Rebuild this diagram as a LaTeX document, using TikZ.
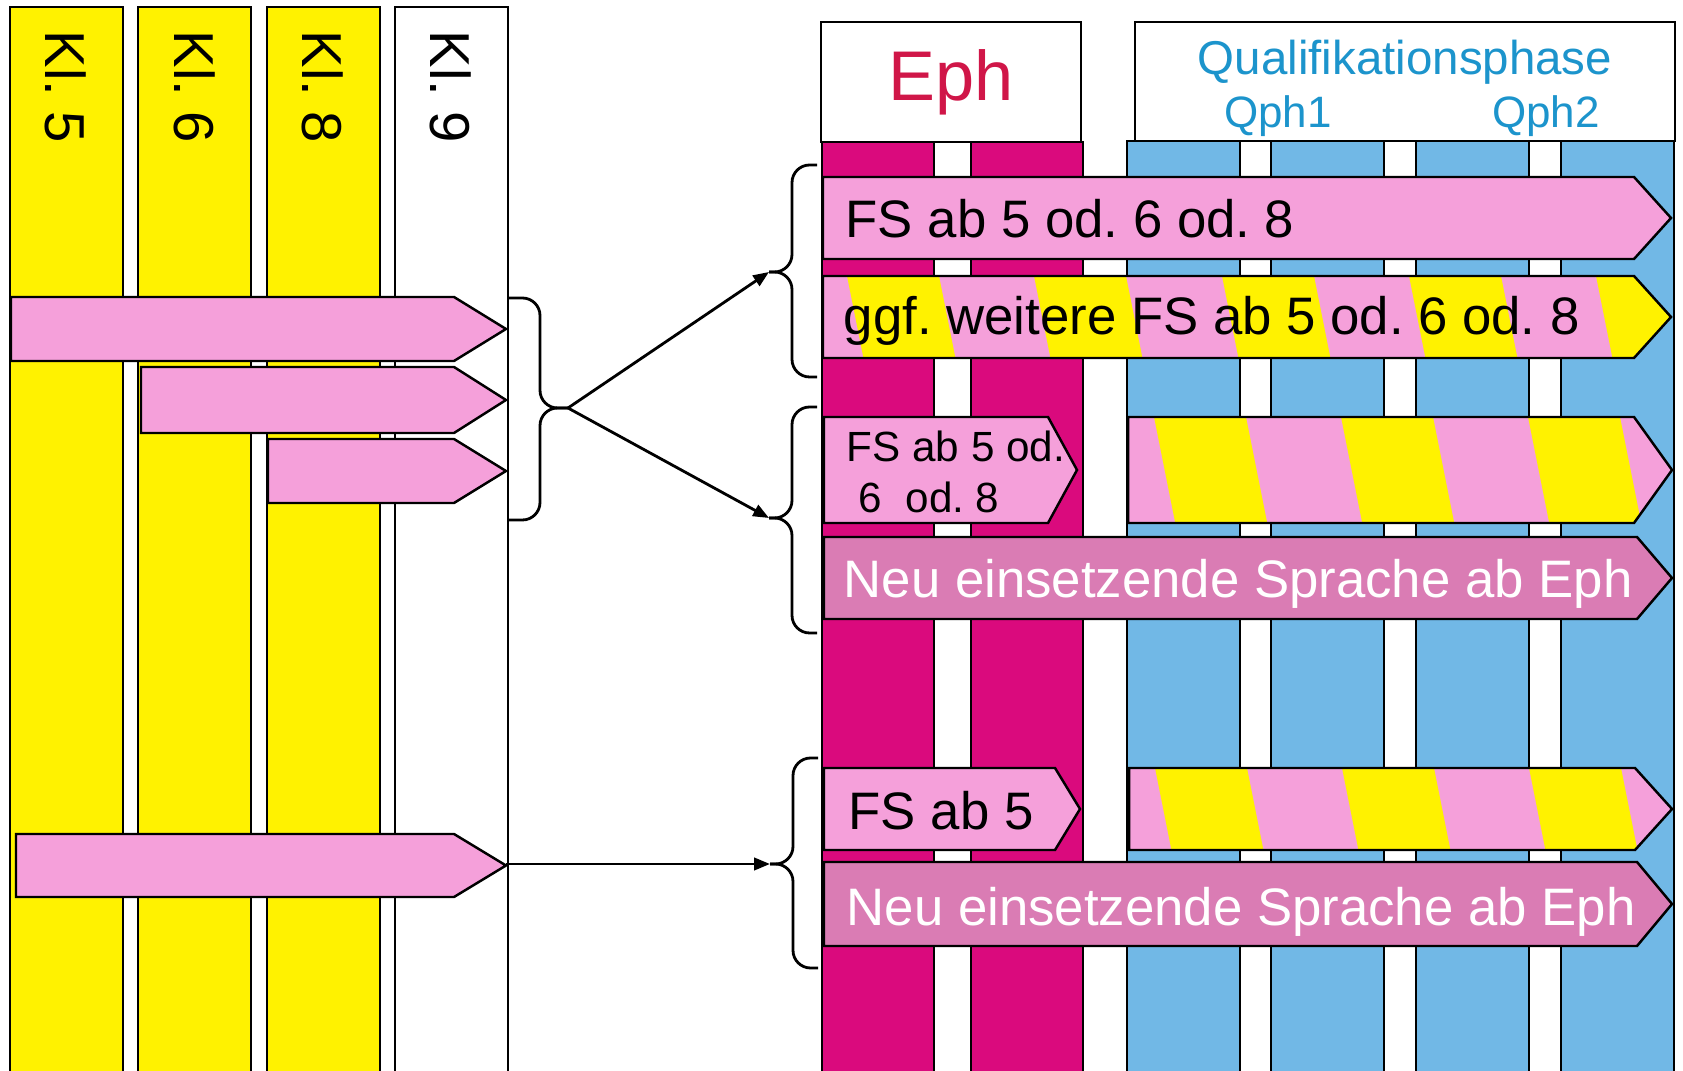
\documentclass[tikz,border=0pt]{standalone}
\usepackage{fontspec}
\setmainfont{Liberation Sans}
\usepackage{xcolor}
\usetikzlibrary{arrows.meta}

\definecolor{gelb}{RGB}{255,242,0}
\definecolor{rosa}{RGB}{245,160,218}
\definecolor{altrosa}{RGB}{218,124,180}
\definecolor{ephmag}{RGB}{218,10,125}
\definecolor{qblau}{RGB}{113,184,230}
\definecolor{ephrot}{RGB}{208,22,72}
\definecolor{qtext}{RGB}{28,148,204}

% arrow bar: style, x left, x shoulder, x tip, y top, y bottom
\newcommand{\pfeil}[6]{\draw[#1] (#2,#5) -- (#3,#5) -- (#4,{(#5+#6)/2}) -- (#3,#6) -- (#2,#6) -- cycle;}

\begin{document}
\frenchspacing
\begin{tikzpicture}[
        x=0.01cm, y=-0.01cm,
        saeule/.style={draw, line width=0.7pt},
        kopf/.style={draw, fill=white, line width=0.7pt, inner sep=0pt},
        balken/.style={draw, fill=rosa, line width=0.7pt},
        streifen/.style n args={3}{path picture={\foreach \s in {#1} \fill[gelb] (\s,#2) -- ++(92,0) -- ({\s+92+0.2*(#3-#2)},#3) -- ({\s+0.2*(#3-#2)},#3) -- cycle;}},
        kl/.style={rotate=-90, anchor=west, inner sep=0pt, font=\fontsize{16}{19}\selectfont},
        btext/.style={anchor=base west, inner sep=0pt, font=\fontsize{15}{18}\selectfont},
        qschrift/.style={text=qtext, anchor=base, inner sep=0pt, font=\fontsize{13.5}{16}\selectfont},
        klammer/.style={draw, line width=0.8pt, rounded corners=5pt},
        verbinder/.style={-{Triangle[length=4.5pt, width=3.5pt]}, line width=0.8pt}
    ]
    \fill[white] (0,0) rectangle (1683,1071);
    \useasboundingbox (0,0) rectangle (1683,1071);

    % Left side - Kl. 5 to Kl. 9
    \foreach \x/\f in {10/gelb, 138/gelb, 267/gelb, 395/white}
        \draw[saeule, fill=\f] (\x,7) rectangle ++(113,1080);
    \foreach \x/\k in {66/5, 195/6, 323/8, 451/9}
        \node[kl] (klasse\k) at (\x,30) {Kl. \k};

    % Right side - Eph and Qualifikationsphase
    \foreach \x in {822, 971}
        \draw[saeule, fill=ephmag] (\x,142) rectangle ++(112,1000);
    \foreach \x in {1127, 1271, 1416, 1561}
        \draw[saeule, fill=qblau] (\x,141) rectangle ++(113,1000);
    \node[kopf, minimum width=2.6cm, minimum height=1.2cm, text=ephrot, font=\fontsize{20}{24}\selectfont] (eph) at (951,82) {Eph};
    \node[kopf, minimum width=5.4cm, minimum height=1.19cm] (qkopf) at (1405,81.5) {};
    \node[qschrift] (qname) at (1405,75) {Qualifikationsphase};
    \node[qschrift, font=\fontsize{12.5}{15}\selectfont] (qph1) at (1278,128) {Qph1};
    \node[qschrift, font=\fontsize{12.5}{15}\selectfont] (qph2) at (1546,128) {Qph2};

    % Bars
    \pfeil{balken}{823}{1634}{1671}{177}{259}
    \pfeil{balken, streifen={847,1034,1222,1409,1596}{276}{358}}{823}{1634}{1671}{276}{358}
    \pfeil{balken}{824}{1048}{1077}{417}{523}
    \pfeil{balken, streifen={1154,1341,1528}{417}{523}}{1128}{1634}{1672}{417}{523}
    \pfeil{balken, fill=altrosa}{824}{1637}{1672}{537}{619}
    \pfeil{balken}{824}{1055}{1080}{768}{850}
    \pfeil{balken, streifen={1155,1342,1529}{768}{850}}{1129}{1635}{1672}{768}{850}
    \pfeil{balken, fill=altrosa}{824}{1637}{1672}{862}{946}

    \node[btext] (fs1) at (845,238) {FS ab 5 od. 6 od. 8};
    \node[btext] (fs2) at (843,335) {ggf. weitere FS ab 5 od. 6 od. 8};
    \node[btext, font=\fontsize{12}{14}\selectfont] (fs3a) at (846,462) {FS ab 5 od.};
    \node[btext, font=\fontsize{12}{14}\selectfont] (fs3b) at (858,513) {6~~od. 8};
    \node[btext, text=white] (neu1) at (843,598) {Neu einsetzende Sprache ab Eph};
    \node[btext] (fs5) at (848,829) {FS ab 5};
    \node[btext, text=white] (neu2) at (846,925) {Neu einsetzende Sprache ab Eph};

    % Left arrows
    \pfeil{balken}{11}{454}{506}{297}{361}
    \pfeil{balken}{141}{454}{506}{367}{433}
    \pfeil{balken}{268}{454}{506}{439}{503}
    \pfeil{balken}{16}{454}{506}{834}{897}

    % Braces
    \coordinate (spitzeL) at (568,408);
    \coordinate (spitze1) at (769,272);
    \coordinate (spitze2) at (769,518);
    \coordinate (spitze3) at (770,864);
    \coordinate (pfeilD) at (506,864);
    \draw[klammer] (508,298) -| (540,408) -- (spitzeL);
    \draw[klammer] (spitzeL) -| (540,520) -- (508,520);
    \draw[klammer] (817,165) -| (792,272) -- (spitze1);
    \draw[klammer] (spitze1) -| (792,377) -- (817,377);
    \draw[klammer] (817,407) -| (792,518) -- (spitze2);
    \draw[klammer] (spitze2) -| (792,633) -- (817,633);
    \draw[klammer] (818,758) -| (793,864) -- (spitze3);
    \draw[klammer] (spitze3) -| (793,968) -- (818,968);

    % Arrows
    \draw[verbinder] (spitzeL) -- (spitze1);
    \draw[verbinder] (spitzeL) -- (spitze2);
    \draw[verbinder] (pfeilD) -- (spitze3);

\end{tikzpicture}
\end{document}
